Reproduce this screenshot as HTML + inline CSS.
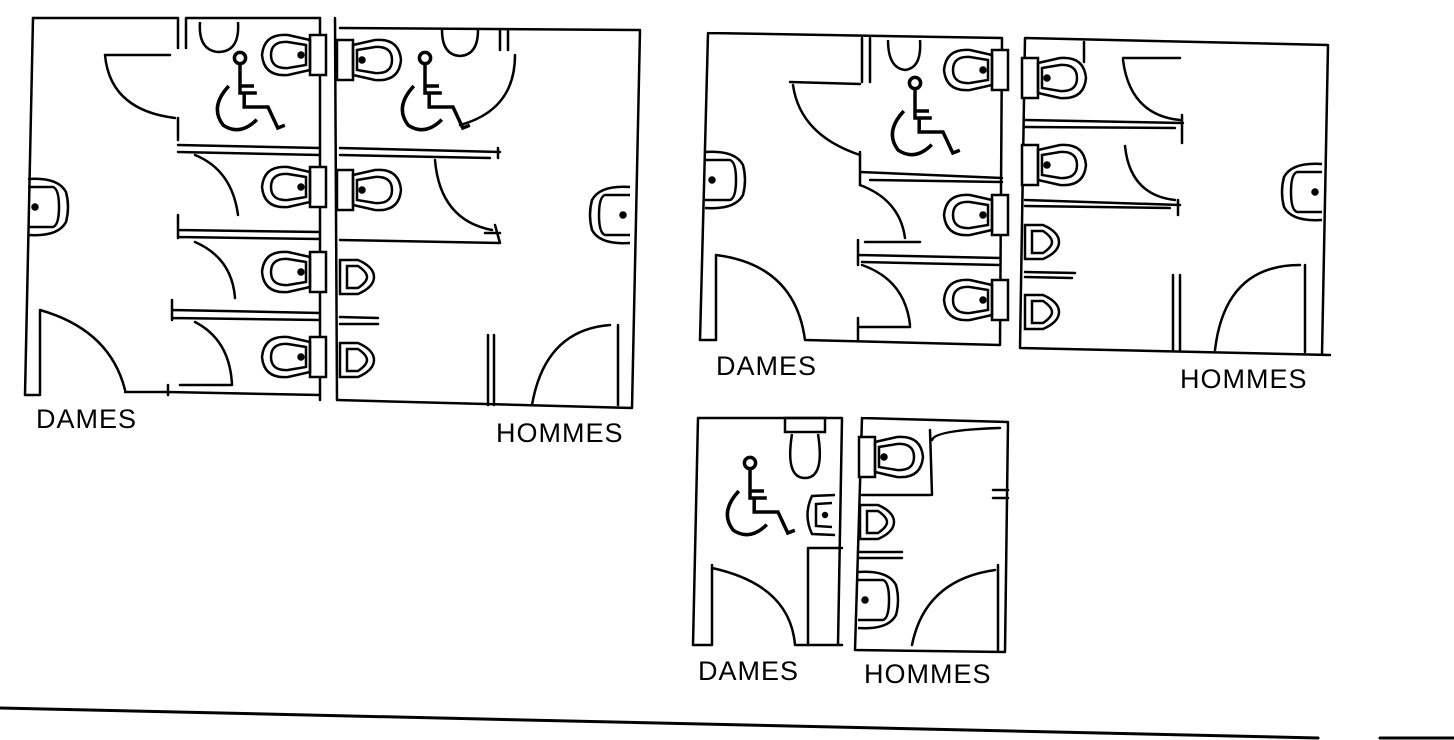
<!DOCTYPE html>
<html><head><meta charset="utf-8"><style>
html,body{margin:0;padding:0;background:#fff;}
svg{display:block}
text{font-family:"Liberation Sans",sans-serif;font-size:27px;fill:#000;letter-spacing:1px}
</style></head><body>
<svg width="1454" height="740" viewBox="0 0 1454 740" xmlns="http://www.w3.org/2000/svg">
<defs>
<g id="tl" fill="none" stroke="#000" stroke-width="2.5">
  <rect x="-8" y="-20" width="16" height="40" fill="#fff"/>
  <path d="M-8,-15 L-30,-20 Q-54,-22 -56,0 Q-54,22 -30,20 L-8,15 Z"/>
  <path d="M-12,-10 L-30,-13 Q-47,-14 -47,0 Q-47,14 -30,13 L-12,10 Z"/>
  <circle cx="-17" cy="0" r="2.5" fill="#000"/>
</g>
<g id="ur" fill="none" stroke="#000" stroke-width="2.5">
  <path d="M0,-17 L18,-17 Q34,-10 34,0 Q34,10 18,17 L0,17 Z"/>
  <path d="M7,-11 L18,-11 Q27,-5 27,0 Q27,5 18,11 L7,11 Z"/>
</g>
<g id="sk" fill="none" stroke="#000" stroke-width="2.5">
  <path d="M0,-28 Q30,-30 38,-15 Q42,0 38,15 Q30,30 0,28"/>
  <path d="M0,-20 L25,-20 Q31,-18 31,0 Q31,18 25,20 L0,20"/>
  <circle cx="7" cy="0" r="2.5" fill="#000"/>
</g>
<g id="wc" fill="none" stroke="#000" stroke-width="2.5">
  <circle cx="0" cy="-30" r="4"/>
  <path d="M0,-26 L0,-5 L12,-5 M0,-10 L10,-10 M3,-5 L3,5 L20,5 L27,20 L32,18"/>
  <path d="M-8,-10 Q-22,5 -12,18 Q0,26 12,14"/>
</g>
</defs>
<g fill="none" stroke="#000" stroke-width="2.5" stroke-linecap="round">
<path d="M33,18 L25,395 M25,395 L40,395 M40,310 L40,395 M40,310 Q110,330 125,390 M125,392 L168,392"/>
<path d="M33,18 L178,18 M178,18 L178,48 M186,18 L186,48 M186,18 L320,18"/>
<path d="M320,18 L320,400 M335,18 L337,400"/>
<path d="M105,55 L170,55 M105,55 Q110,110 175,118 M178,118 L178,140 M178,145 L320,148 M178,152 L320,155"/>
<path d="M195,155 Q232,170 238,215 M178,215 L178,238 M178,230 L320,232 M178,237 L320,239"/>
<path d="M195,242 Q232,258 235,298 M172,300 L172,320 M172,310 L320,313 M172,318 L320,320"/>
<path d="M195,322 Q230,340 232,385 M168,385 L168,395 M168,392 L320,395 M180,385 L232,385"/>
<path d="M340,28 L640,30 M640,30 L632,408 M337,400 L632,408"/>
<path d="M500,30 L500,50 M508,30 L508,50 M515,55 Q515,110 460,125 M340,148 L500,152 M340,155 L490,158 M498,148 L498,158"/>
<path d="M435,160 Q440,220 492,230 M340,240 L500,243 M495,225 L500,243 M485,233 L500,233"/>
<path d="M340,317 L378,318 M340,324 L378,324"/>
<path d="M488,335 L488,405 M494,335 L494,405 M532,405 Q545,330 610,325 M618,325 L618,405"/>
<path d="M708,33 L1002,38 M708,33 L700,340 M700,340 L716,340 M716,255 L716,340 M716,255 Q795,265 805,340 M805,340 L1000,345 M1002,38 L1000,345"/>
<path d="M862,38 L862,82 M870,38 L870,82 M790,82 L860,84 M793,85 Q800,135 860,155"/>
<path d="M860,152 L860,185 M860,172 L1002,178 M870,180 L1002,182"/>
<path d="M860,185 Q900,200 905,238 M858,240 L858,265 M865,242 L920,242 M858,255 L1000,258 M862,262 L1000,265"/>
<path d="M862,265 Q905,280 910,325 M858,318 L858,340 M860,327 L910,327"/>
<path d="M1025,38 L1328,45 M1025,38 L1020,348 M1020,348 L1330,355 M1328,45 L1322,355"/>
<path d="M1084,42 L1084,62 M1123,58 L1180,58 M1123,60 Q1130,115 1180,120 M1025,120 L1183,123 M1025,127 L1175,128 M1182,115 L1182,143"/>
<path d="M1125,146 Q1130,195 1175,200 M1025,200 L1180,205 M1025,206 L1170,208 M1178,200 L1178,215"/>
<path d="M1025,272 L1075,273 M1025,277 L1072,278"/>
<path d="M1173,275 L1173,350 M1180,275 L1180,350 M1215,350 Q1225,265 1300,265 M1305,265 L1305,352"/>
<path d="M698,418 L842,418 M698,418 L693,645 M693,645 L712,645 M712,565 L712,645 M712,568 Q790,585 795,645 M795,645 L842,645 M842,418 L838,645"/>
<path d="M808,548 L842,548 M808,548 L808,645"/>
<path d="M862,418 L1008,422 M862,418 L855,650 M855,650 L1005,652 M1008,422 L1005,652"/>
<path d="M930,430 L932,495 M932,440 Q935,430 1000,428 M862,495 L930,495 M993,490 L1008,490 M993,498 L1008,498"/>
<path d="M858,552 L902,552 M858,558 L902,558"/>
<path d="M912,645 Q925,580 995,570 M998,565 L998,650"/>
<path d="M0,708 L1318,738" stroke-width="3"/>
<path d="M1380,738 L1454,738" stroke-width="3"/>
</g>
<use href="#tl" x="318" y="55"/>
<use href="#tl" x="318" y="187"/>
<use href="#tl" x="318" y="272"/>
<use href="#tl" x="318" y="357"/>
<use href="#tl" transform="translate(345,60) scale(-1,1)"/>
<use href="#tl" transform="translate(345,190) scale(-1,1)"/>
<use href="#ur" x="340" y="277"/>
<use href="#ur" x="340" y="360"/>
<use href="#sk" x="28" y="207"/>
<use href="#sk" transform="translate(630,215) scale(-1,1)"/>
<g fill="none" stroke="#000" stroke-width="2.5">
<path d="M200,22 Q198,50 218,52 Q240,52 238,22"/>
<path d="M442,30 Q442,55 460,56 Q478,55 478,30"/>
</g>
<use href="#wc" transform="translate(240,100) scale(1.4)"/>
<use href="#wc" transform="translate(425,100) scale(1.4)"/>
<use href="#tl" x="1000" y="70"/>
<use href="#tl" x="1000" y="215"/>
<use href="#tl" x="1000" y="300"/>
<use href="#tl" transform="translate(1030,78) scale(-1,1)"/>
<use href="#tl" transform="translate(1030,165) scale(-1,1)"/>
<use href="#ur" x="1025" y="242"/>
<use href="#ur" x="1025" y="312"/>
<use href="#sk" x="705" y="180"/>
<use href="#sk" transform="translate(1322,192) scale(-1,1)"/>
<g fill="none" stroke="#000" stroke-width="2.5">
<path d="M888,40 Q888,68 905,70 Q922,68 920,40"/>
</g>
<use href="#wc" transform="translate(915,125) scale(1.4)"/>
<g fill="none" stroke="#000" stroke-width="2.5">
<rect x="785" y="418" width="40" height="14"/>
<path d="M792,434 Q785,478 805,478 Q825,478 818,434"/>
<path d="M835,495 L812,496 Q803,515 812,534 L835,535"/>
<path d="M832,503 L816,504 L816,526 L832,527"/>
<circle cx="825" cy="515" r="2" fill="#000"/>
</g>
<use href="#tl" transform="translate(867,457) scale(-1,1)"/>
<use href="#ur" x="860" y="522"/>
<use href="#sk" x="858" y="600"/>
<use href="#wc" transform="translate(750,505) scale(1.4)"/>
<text x="36" y="428">DAMES</text>
<text x="496" y="442">HOMMES</text>
<text x="716" y="375">DAMES</text>
<text x="1180" y="388">HOMMES</text>
<text x="698" y="680">DAMES</text>
<text x="864" y="683">HOMMES</text>
</svg>
</body></html>
